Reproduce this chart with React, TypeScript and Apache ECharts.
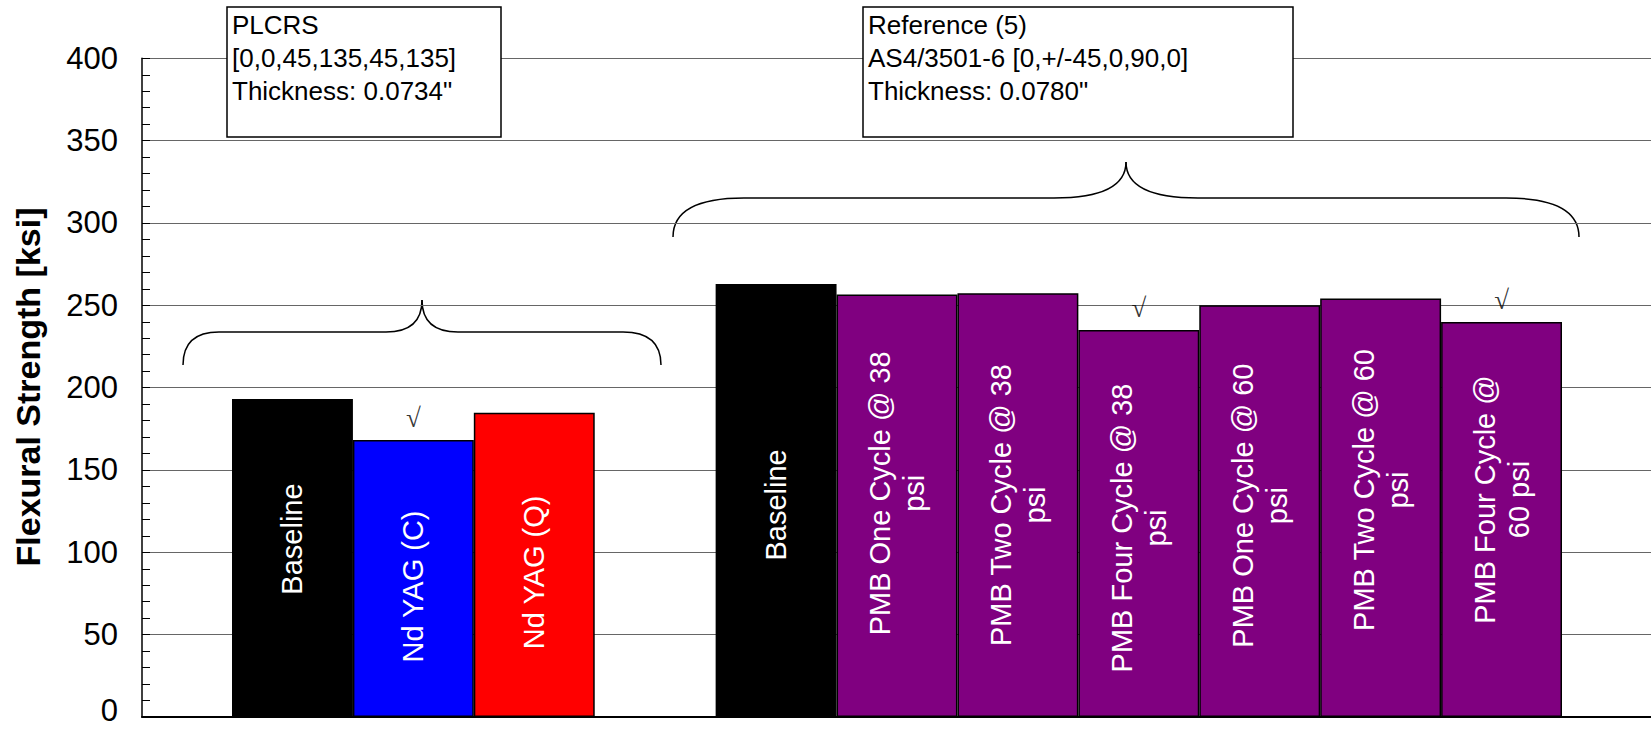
import React, { useEffect, useRef } from "react";
import * as echarts from "echarts";

// ---- data ----
const barLabels = [
  "Baseline",
  "Nd YAG (C)",
  "Nd YAG (Q)",
  "",
  "Baseline",
  "PMB One Cycle @ 38\npsi",
  "PMB Two Cycle @ 38\npsi",
  "PMB Four Cycle @ 38\npsi",
  "PMB One Cycle @ 60\npsi",
  "PMB Two Cycle @ 60\npsi",
  "PMB Four Cycle @\n60 psi",
];
const strengths: (number | null)[] = [193.1, 168.2, 184.8, null, 263.0, 256.5, 257.4, 235.0, 250.0, 254.2, 239.8];
const barColors = ["#000000", "#0000ff", "#ff0000", "#ffffff", "#000000", "#800080", "#800080", "#800080", "#800080", "#800080", "#800080"];
const significant = [false, true, false, false, false, false, false, true, false, false, true];
// vertical nudge (px, positive = down) of each in-bar label (style only)
const labelShift = [-19, 8, 7.5, 0, 4.5, -12.5, 0, 4.5, -5.5, -17.7, -20];
const checkMark = "√";
const yAxisTitle = "Flexural Strength [ksi]";
const yMin = 0;
const yMax = 400;
const yInterval = 50;
const groupNotes = [
  ["PLCRS", "[0,0,45,135,45,135]", 'Thickness: 0.0734"'],
  ["Reference (5)", "AS4/3501-6 [0,+/-45,0,90,0]", 'Thickness: 0.0780"'],
];

const SANS = "Liberation Sans, Arial, sans-serif";
const SERIF = "Liberation Serif, Times New Roman, serif";

function brace(x0: number, x1: number, tipX: number, yTip: number, yFlat: number, yEnd: number, wl: number, wc: number, wr: number) {
  const ls = { stroke: "#000", lineWidth: 1.5, fill: "none" };
  return [
    { type: "bezierCurve", shape: { x1: x0, y1: yEnd, x2: x0 + wl, y2: yFlat, cpx1: x0, cpy1: yFlat }, style: ls },
    { type: "line", shape: { x1: x0 + wl, y1: yFlat, x2: tipX - wc, y2: yFlat }, style: ls },
    { type: "bezierCurve", shape: { x1: tipX - wc, y1: yFlat, x2: tipX, y2: yTip, cpx1: tipX, cpy1: yFlat }, style: ls },
    { type: "bezierCurve", shape: { x1: tipX, y1: yTip, x2: tipX + wc, y2: yFlat, cpx1: tipX, cpy1: yFlat }, style: ls },
    { type: "line", shape: { x1: tipX + wc, y1: yFlat, x2: x1 - wr, y2: yFlat }, style: ls },
    { type: "bezierCurve", shape: { x1: x1 - wr, y1: yFlat, x2: x1, y2: yEnd, cpx1: x1, cpy1: yFlat }, style: ls },
  ];
}

function noteBox(x: number, y: number, w: number, h: number, lines: string[]) {
  return [
    { type: "rect", z: 10, shape: { x, y, width: w, height: h }, style: { fill: "#fff", stroke: "#000", lineWidth: 1.5 } },
    {
      type: "text",
      z: 11,
      x: x + 5,
      y: y + 1,
      style: { text: lines.join("\n"), fill: "#000", font: `26px ${SANS}`, lineHeight: 33, textVerticalAlign: "top" },
    },
  ];
}

export default function App() {
  const ref = useRef<HTMLDivElement>(null);
  useEffect(() => {
    if (!ref.current) return;
    const chart = echarts.init(ref.current, undefined, { renderer: "svg" });
    const barData = strengths.map((v, i) => ({
      value: v === null ? "-" : v,
      itemStyle: { color: barColors[i] },
      // label is rotated 90deg: its local x axis points up on screen
      label: { offset: [-labelShift[i], 0] },
    }));
    const checkData = strengths
      .map((v, i) => (significant[i] && v !== null ? [i, v] : null))
      .filter((d) => d !== null);
    const option: any = {
      animation: false,
      grid: [
        { left: 142, right: 0, top: 58.3, bottom: 12 },
        { left: 232, right: 89, top: 58.3, bottom: 12 },
      ],
      xAxis: [
        {
          gridIndex: 0,
          type: "value",
          min: 0,
          max: 1,
          position: "bottom",
          axisLine: { show: true, onZero: false, lineStyle: { color: "#000", width: 2 } },
          axisTick: { show: false },
          axisLabel: { show: false },
          splitLine: { show: false },
        },
        { gridIndex: 1, type: "category", data: barLabels, show: false },
      ],
      yAxis: [
        {
          gridIndex: 0,
          type: "value",
          min: yMin,
          max: yMax,
          interval: yInterval,
          axisLine: { show: true, onZero: false, lineStyle: { color: "#000", width: 1.5 } },
          axisTick: { show: true, inside: true, length: 8, lineStyle: { color: "#000", width: 1 } },
          minorTick: { show: true, splitNumber: 5, length: 8, lineStyle: { color: "#000", width: 1 } },
          axisLabel: {
            fontSize: 31,
            color: "#000",
            fontFamily: SANS,
            margin: 24,
            formatter: (v: number) => (v === yMin ? `{z|${v}}` : `${v}`),
            rich: { z: { fontSize: 31, fontFamily: SANS, color: "#000", padding: [0, 0, 14, 0] } },
          },
          splitLine: { show: true, lineStyle: { color: "#666", width: 1 } },
        },
        { gridIndex: 1, type: "value", min: yMin, max: yMax, show: false, splitLine: { show: false } },
      ],
      series: [
        {
          type: "bar",
          xAxisIndex: 1,
          yAxisIndex: 1,
          data: barData,
          barCategoryGap: 0,
          itemStyle: { borderColor: "#000", borderWidth: 1.5 },
          label: {
            show: true,
            position: "inside",
            rotate: 90,
            color: "#fff",
            fontSize: 29,
            fontFamily: SANS,
            lineHeight: 34,
            formatter: (p: any) => barLabels[p.dataIndex],
          },
          z: 3,
        },
        {
          type: "scatter",
          xAxisIndex: 1,
          yAxisIndex: 1,
          data: checkData,
          symbolSize: 1,
          itemStyle: { color: "rgba(0,0,0,0)" },
          label: {
            show: true,
            position: "top",
            distance: 8,
            formatter: checkMark,
            color: "#000",
            fontSize: 27,
            fontFamily: SERIF,
          },
          z: 4,
        },
      ],
      graphic: [
        {
          type: "text",
          x: 28,
          y: 387,
          rotation: Math.PI / 2,
          style: { text: yAxisTitle, fill: "#000", font: `bold 34px ${SANS}`, textAlign: "center", textVerticalAlign: "middle" },
        },
        ...brace(183, 661, 422, 300, 332, 365, 36, 36, 38),
        ...brace(673, 1579, 1126, 162, 198, 237, 71, 72, 73),
        ...noteBox(227, 7, 274, 130, groupNotes[0]),
        ...noteBox(863, 7, 430, 130, groupNotes[1]),
      ],
    };
    chart.setOption(option);
    return () => chart.dispose();
  }, []);
  return <div ref={ref} style={{ position: "absolute", left: 0, top: 0, width: 1651, height: 729, background: "#fff" }} />;
}
